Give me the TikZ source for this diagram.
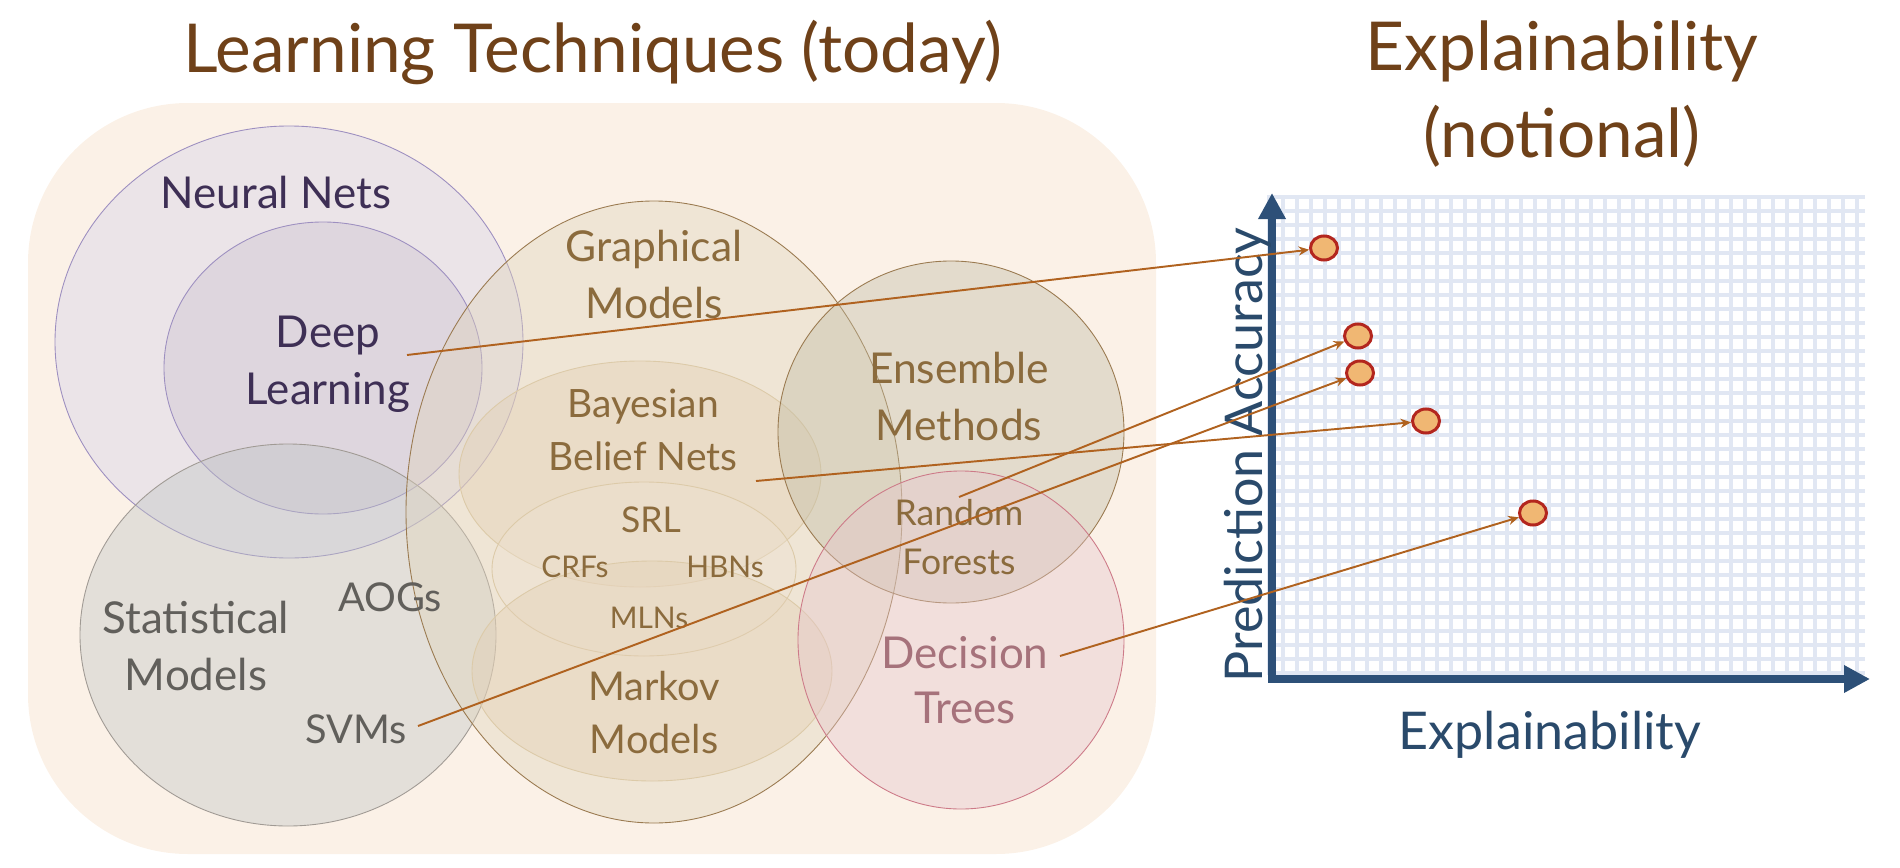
\documentclass[tikz,border=0pt]{standalone}
\usepackage{fontspec}
\setmainfont{Lato}
\usetikzlibrary{shapes.geometric,arrows.meta}
\definecolor{panel}{HTML}{FBF1E7}
\definecolor{ttlbrown}{HTML}{6F4119}
\definecolor{nnfill}{HTML}{D5D1EA}
\definecolor{dlfill}{HTML}{CBC1D1}
\definecolor{nnline}{HTML}{9D8FC0}
\definecolor{nntext}{HTML}{3E2F55}
\definecolor{smfill}{HTML}{BFC4C4}
\definecolor{smline}{HTML}{A09A94}
\definecolor{smtext}{HTML}{615F5B}
\definecolor{gmfill}{HTML}{DFD3BA}
\definecolor{gmline}{HTML}{9A7A50}
\definecolor{gmtext}{HTML}{8B6B3D}
\definecolor{inline}{HTML}{DCCAA8}
\definecolor{infill}{HTML}{E3CFB4}
\definecolor{emfill}{HTML}{C1BCA4}
\definecolor{dtfill}{HTML}{E6C6CC}
\definecolor{dtline}{HTML}{CD7A88}
\definecolor{dttext}{HTML}{A6727B}
\definecolor{feedcol}{HTML}{B0621F}
\definecolor{axcol}{HTML}{2D5078}
\definecolor{axtext}{HTML}{2A4A6B}
\definecolor{gridcol}{HTML}{E1E7F3}
\definecolor{dotfill}{HTML}{F0B773}
\definecolor{dotline}{HTML}{B3261E}
\newcommand{\setfs}[2]{\fontsize{#1}{#2}\selectfont}
\tikzstyle{lbl}=[align=center,anchor=base,inner sep=0pt]
\tikzstyle{blob}=[fill opacity=0.4,line width=0.25pt]
\tikzstyle{dot}=[ellipse,draw=dotline,fill=dotfill,line width=0.3mm,minimum width=2.7mm,minimum height=2.4mm,inner sep=0pt]
\tikzstyle{feed}=[draw=feedcol,line width=0.55pt,-{Stealth[length=3pt,width=2.6pt]}]

\begin{document}
\begin{tikzpicture}[x=0.1mm,y=-0.1mm]
\useasboundingbox (0,0) rectangle (1900,868);
% titles (base = last line)
\node[lbl,text=ttlbrown,font=\setfs{19.2pt}{25pt}] (ttlLeft) at (593,72) {Learning Techniques (today)};
\node[lbl,text=ttlbrown,font=\setfs{19.2pt}{25pt}] (ttlRight) at (1562,158) {Explainability\\(notional)};
% panel of techniques
\fill[panel,rounded corners=16mm] (28,103) rectangle (1156,854);
\filldraw[blob,fill=nnfill,draw=nnline] (289,342) ellipse [x radius=234, y radius=216];
\filldraw[blob,fill=dlfill,draw=nnline] (323,368) ellipse [x radius=159, y radius=146];
\filldraw[blob,fill=smfill,draw=smline] (288,635) ellipse [x radius=208, y radius=191];
\filldraw[blob,fill=gmfill,draw=gmline] (654,512) ellipse [x radius=248, y radius=311];
\filldraw[blob,fill=infill,draw=inline] (640,474) ellipse [x radius=181, y radius=113];
\filldraw[blob,fill=infill!60!white,draw=inline] (644,569) ellipse [x radius=152, y radius=87];
\filldraw[blob,fill=infill,draw=inline] (652,671) ellipse [x radius=180, y radius=110];
\filldraw[blob,fill=emfill,draw=gmline] (951,432) ellipse [x radius=173, y radius=171];
\filldraw[blob,fill=dtfill,draw=dtline] (961,640) ellipse [x radius=163, y radius=169];
% labels
\node[lbl,text=nntext,font=\setfs{12.5pt}{16pt}] (nnLbl) at (276,208) {Neural Nets};
\node[lbl,text=nntext,font=\setfs{12.5pt}{16pt}] (dlLbl) at (328,404) {Deep\\Learning};
\node[lbl,text=smtext,font=\setfs{12.5pt}{16.2pt}] (smLbl) at (196,690) {Statistical\\Models};
\node[lbl,text=smtext,font=\setfs{11.3pt}{14pt}] (aogLbl) at (390,611) {AOGs};
\node[lbl,text=smtext,font=\setfs{11.3pt}{14pt}] (svmLbl) at (356,743) {SVMs};
\node[lbl,text=gmtext,font=\setfs{12.1pt}{16pt}] (gmLbl) at (654,318) {Graphical\\Models};
\node[lbl,text=gmtext,font=\setfs{11.1pt}{14.8pt}] (bbnLbl) at (643,470) {Bayesian\\Belief Nets};
\node[lbl,text=gmtext,font=\setfs{10.1pt}{12pt}] (srlLbl) at (651,532) {SRL};
\node[lbl,text=gmtext,font=\setfs{8.5pt}{10pt}] (crfLbl) at (575,577) {CRFs};
\node[lbl,text=gmtext,font=\setfs{8.5pt}{10pt}] (hbnLbl) at (725,577) {HBNs};
\node[lbl,text=gmtext,font=\setfs{8.5pt}{10pt}] (mlnLbl) at (649,628) {MLNs};
\node[lbl,text=gmtext,font=\setfs{11.3pt}{14.8pt}] (mmLbl) at (654,753) {Markov\\Models};
\node[lbl,text=gmtext,font=\setfs{12.1pt}{16.2pt}] (emLbl) at (959,440) {Ensemble\\Methods};
\node[lbl,text=gmtext,font=\setfs{10.1pt}{13.9pt}] (rfLbl) at (959,574) {Random\\Forests};
\node[lbl,text=dttext,font=\setfs{12.5pt}{15.6pt}] (dtLbl) at (965,723) {Decision\\Trees};
% chart grid
\begin{scope}
\clip (1267,195) rectangle (1865,675);
\foreach \gx in {0,...,42} \draw[gridcol,line width=0.4mm] ({1269+14*\gx},195) -- ({1269+14*\gx},675);
\foreach \gy in {0,...,34} \draw[gridcol,line width=0.4mm] (1267,{197+14*\gy}) -- (1865,{197+14*\gy});
\end{scope}
% axes
\coordinate (yTip) at (1272,193);
\coordinate (orig) at (1272,679);
\coordinate (xTip) at (1870,679);
\draw[axcol,line width=0.8mm,{Triangle[length=2.6mm,width=2.6mm]}-{Triangle[length=2.6mm,width=2.6mm]}] (yTip) -- (orig) -- (xTip);
\node[lbl,text=axtext,font=\setfs{14.8pt}{18pt},rotate=90] (yLbl) at (1262,455) {Prediction Accuracy};
\node[lbl,text=axtext,font=\setfs{14.8pt}{18pt}] (xLbl) at (1550,749) {Explainability};
% points
\node[dot] (pDL) at (1324,248) {};
\node[dot] (pRF) at (1358,336) {};
\node[dot] (pSVM) at (1360,373) {};
\node[dot] (pBBN) at (1426,421) {};
\node[dot] (pDT) at (1533,513) {};
% connectors
\coordinate (dlFrom) at (407,355);
\coordinate (rfFrom) at (959,497);
\coordinate (svmFrom) at (418,726);
\coordinate (bbnFrom) at (756,481);
\coordinate (dtFrom) at (1060,656);
\draw[feed] (dlFrom) -- (pDL);
\draw[feed] (rfFrom) -- (pRF);
\draw[feed] (svmFrom) -- (pSVM);
\draw[feed] (bbnFrom) -- (pBBN);
\draw[feed] (dtFrom) -- (pDT);
\end{tikzpicture}
\end{document}
